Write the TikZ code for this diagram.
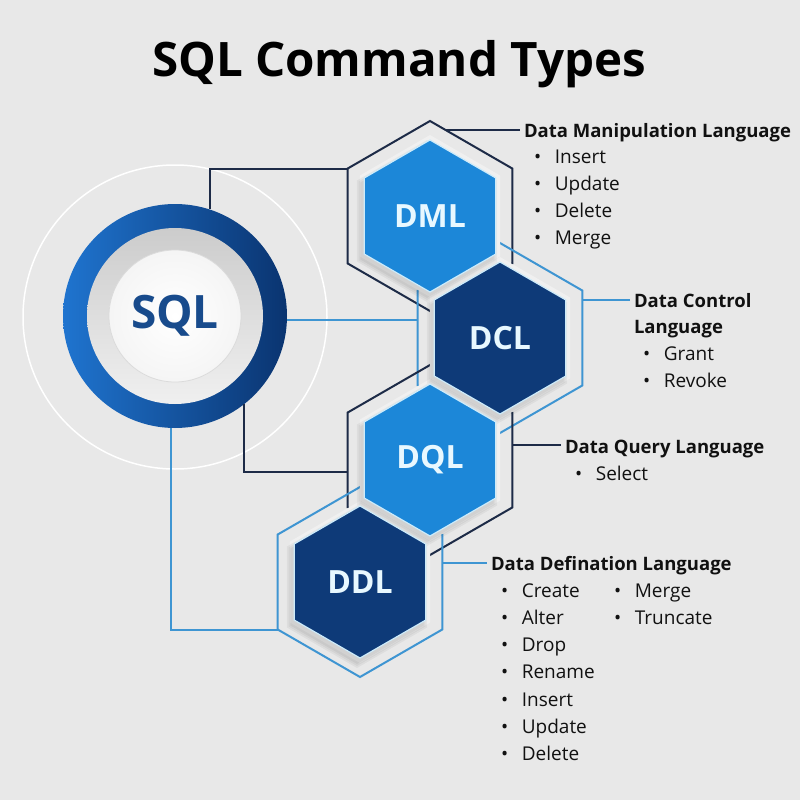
\documentclass[tikz,border=0pt]{standalone}
\usepackage{fontspec}
\setmainfont{Open Sans}
\usetikzlibrary{shapes.geometric}

\definecolor{bg}{HTML}{E8E8E8}
\definecolor{navy}{HTML}{0E3A78}
\definecolor{skyblue}{HTML}{1C87D8}
\definecolor{navyline}{HTML}{1D2B47}
\definecolor{blueline}{HTML}{3E95D2}
\definecolor{ink}{HTML}{111111}
\definecolor{sqlblue}{HTML}{184B8C}
\definecolor{hextext}{HTML}{E8F8FF}
\definecolor{hexrim}{HTML}{CDEBFA}
\definecolor{plate}{HTML}{F0F0F0}
\definecolor{ringlight}{HTML}{1F74CF}
\definecolor{ringdark}{HTML}{0A3470}

% hexagon outline centred at the origin, pointy top
\newcommand\hexagonpath[1]{(90:#1) -- (150:#1) -- (210:#1) -- (270:#1) -- (330:#1) -- (30:#1) -- cycle}
% bullet followed by an item word
\newcommand\bulletitem[1]{•\hspace{13.5pt}#1}

\tikzset{
  hexshape/.style={regular polygon, regular polygon sides=6, shape border rotate=30,
    inner sep=0pt, outer sep=0pt, minimum size=#1},
  hexframe/.style={hexshape=190, draw=#1, line width=2pt},
  hexplate/.style={hexshape=162, fill=plate},
  hexcore/.style={hexshape=152, fill=#1, draw=hexrim, line width=1.2pt, text=hextext,
    font=\bfseries\fontsize{32}{32}\selectfont},
  link/.style={line width=2pt, draw=#1},
  head/.style={anchor=base west, inner sep=0pt, outer xsep=4pt,
    font=\bfseries\fontsize{18.5}{22}\selectfont, text=ink},
  entry/.style={anchor=base west, inner sep=0pt, font=\fontsize{19}{22}\selectfont, text=ink},
  softshadow/.style={fill=black, opacity=0.045},
}

\begin{document}
\begin{tikzpicture}[x=1pt, y=-1pt]
  % canvas
  \fill[bg] (0,0) rectangle (800,800);
  \useasboundingbox (0,0) rectangle (800,800);

  % title
  \node[anchor=base, inner sep=0pt, text=black,
        font=\bfseries\fontsize{47.5}{50}\selectfont] (title) at (399,77) {SQL Command Types};

  % SQL badge
  \node[circle, draw=white, line width=1.5pt, minimum size=304, inner sep=0pt] (halo) at (175,317) {};
  \node[circle, minimum size=224, inner sep=0pt, outer sep=0pt,
        left color=ringlight, right color=ringdark] (ring) at (175,316) {};
  \node[circle, minimum size=176, inner sep=0pt, top color=black!20, bottom color=black!6] (disc) at (ring.center) {};
  \node[circle, minimum size=132, inner sep=0pt, draw=black!14, line width=0.8pt,
        inner color=white, outer color=black!4, text=sqlblue,
        font=\bfseries\fontsize{46}{46}\selectfont] (core) at (ring.center) {SQL};

  % hexagon frames
  \node[hexframe=navyline] (dmlo) at (430,216) {};
  \node[hexframe=blueline] (dclo) at (500,338) {};
  \node[hexframe=navyline] (dqlo) at (430,460) {};
  \node[hexframe=blueline] (ddlo) at (360,582) {};

  % connectors from the badge to the frames
  \draw[link=navyline] (ring.72) |- (dmlo.150);
  \draw[link=blueline] (ring.-2) -- (ring.-2 -| dclo.west);
  \draw[link=navyline] (ring.-52) |- ([yshift=-12pt]dqlo.west);
  \draw[link=blueline] (ring.-92) |- (ddlo.210);

  % plates under the coloured hexagons
  \node[hexplate] (dmlp) at (430,216) {};
  \node[hexplate] (dclp) at (500,338) {};
  \node[hexplate] (dqlp) at (430,460) {};
  \node[hexplate] (ddlp) at (360,582) {};

  % soft shadows
  \foreach \cx/\cy in {430/216, 500/338, 430/460, 360/582}
    \foreach \r in {77,79,81}
      \fill[softshadow, shift={(\cx-3,\cy+5)}] \hexagonpath{\r};

  % coloured hexagons
  \node[hexcore=skyblue] (dml) at (430,216) {DML};
  \node[hexcore=navy]    (dcl) at (500,338) {DCL};
  \node[hexcore=skyblue] (dql) at (430,460) {DQL};
  \node[hexcore=navy]    (ddl) at (360,582) {DDL};

  % DML text
  \node[head] (dmlh) at (520,137) {Data Manipulation Language};
  \foreach \w [count=\i] in {Insert,Update,Delete,Merge}
    \node[entry] (dml-\i) at (534,136+27*\i) {\bulletitem{\w}};
  \draw[link=navyline] (dmlo.80) -- (dmlo.80 -| dmlh.west);

  % DCL text
  \node[head] (dclh) at (630,307) {Data Control};
  \node[head] (dclh2) at (630,333) {Language};
  \foreach \w [count=\i] in {Grant,Revoke}
    \node[entry] (dcl-\i) at (643,333+27*\i) {\bulletitem{\w}};
  \draw[link=blueline] (dclo.25) -- (dclo.25 -| dclh.west);

  % DQL text
  \node[head] (dqlh) at (561,453) {Data Query Language};
  \node[entry] (dql-1) at (575,480) {\bulletitem{Select}};
  \draw[link=navyline] (dqlo.10) -- (dqlo.10 -| dqlh.west);

  % DDL text
  \node[head] (ddlh) at (487,570) {Data Defination Language};
  \foreach \w [count=\i] in {Create,Alter,Drop,Rename,Insert,Update,Delete}
    \node[entry] (ddl-\i) at (501,569.7+27.3*\i) {\bulletitem{\w}};
  \foreach \w [count=\i] in {Merge,Truncate}
    \node[entry] (ddlb-\i) at (614,569.7+27.3*\i) {\bulletitem{\w}};
  \draw[link=blueline] (ddlo.13) -- (ddlo.13 -| ddlh.west);
\end{tikzpicture}
\end{document}
